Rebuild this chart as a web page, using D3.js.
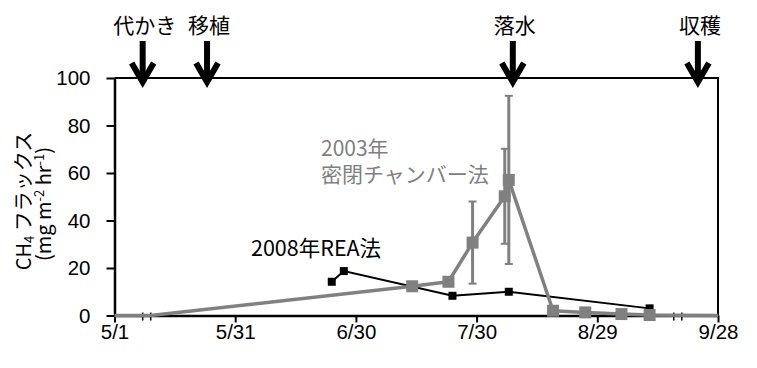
<!DOCTYPE html>
<html>
<head>
<meta charset="utf-8">
<script src="https://cdn.jsdelivr.net/npm/d3@7"></script>
<style>
  html, body { margin: 0; padding: 0; background: #fff; }
  svg { display: block; }
  text { font-family: "Liberation Sans", Arial, sans-serif; }
  .jp { font-family: "Noto Sans CJK JP", "Noto Sans", sans-serif; }
</style>
</head>
<body>
<svg id="chart" width="757" height="368"></svg>
<script>
// x-axis tick dates (month/day) and y-axis ticks
const xTickLabels = ["5/1", "5/31", "6/30", "7/30", "8/29", "9/28"];
const yTicks = [0, 20, 40, 60, 80, 100];

// 2003: closed chamber method (mean and error)
const chamberDates = ["5/1", "5/10", "7/14", "7/23", "7/29", "8/6", "8/7", "8/18", "8/26", "9/4", "9/11", "9/28"];
const chamberFlux  = [0, 0, 12.3, 14.2, 30.7, 50.2, 57.1, 2.0, 1.3, 0.6, 0.2, 0];
const chamberErr   = [0, 0, 0, 0, 17.3, 20.0, 35.4, 0, 0, 0, 0, 0];
const chamberMarker = [false, false, true, true, true, true, true, true, true, true, true, false];

// 2008: REA method
const reaDates = ["6/24", "6/27", "7/24", "8/7", "9/11"];
const reaFlux  = [14.2, 18.7, 8.3, 10.0, 3.0];

// Field operations
const eventLabels = ["代かき", "移植", "落水", "収穫"];
const eventDates  = ["5/8", "5/24", "8/8", "9/23"];

// Small tick pairs on the time axis
const axisMarkDates = ["5/8", "5/10", "9/17", "9/19"];

const parseMD = s => { const [m, d] = s.split("/").map(Number); return new Date(2008, m - 1, d); };

const svg = d3.select("#chart");
const plotL = 114.5, plotR = 718, plotT = 78, plotB = 315.5;

const x = d3.scaleTime()
  .domain([parseMD("5/1"), parseMD("9/28")])
  .range([plotL, plotR]);
const y = d3.scaleLinear().domain([0, 100]).range([plotB, plotT]);

// plot area border (top and right)
svg.append("path")
  .attr("d", `M${plotL},${plotT}H${plotR}V${plotB}`)
  .attr("fill", "none").attr("stroke", "#000").attr("stroke-width", 2);

// y axis
const yAxis = svg.append("g")
  .attr("transform", `translate(${plotL},0)`)
  .call(d3.axisLeft(y).tickValues(yTicks).tickSize(8).tickSizeOuter(0).tickPadding(16));
yAxis.select(".domain").attr("stroke-width", 2.5);
yAxis.selectAll(".tick line").attr("stroke-width", 2);
yAxis.selectAll("text").attr("font-size", 20.5).attr("fill", "#000");

// x axis
const xTickDates = xTickLabels.map(parseMD);
const xAxis = svg.append("g")
  .attr("transform", `translate(0,${plotB})`)
  .call(d3.axisBottom(x).tickValues(xTickDates)
    .tickFormat((d, i) => xTickLabels[i]).tickSize(7).tickSizeOuter(0));
xAxis.select(".domain").attr("stroke-width", 2.5);
xAxis.selectAll(".tick line").attr("stroke-width", 2);
xAxis.selectAll("text").attr("font-size", 20.5).attr("fill", "#000")
  .attr("y", 23).attr("dy", 0);

// small tick pairs across the axis
svg.append("g").selectAll("line")
  .data(axisMarkDates.map(parseMD))
  .join("line")
  .attr("x1", d => x(d)).attr("x2", d => x(d))
  .attr("y1", plotB - 3).attr("y2", plotB + 5)
  .attr("stroke", "#000").attr("stroke-width", 1.5);

// REA series (black)
const rea = reaDates.map((d, i) => ({ date: parseMD(d), v: reaFlux[i] }));
const line = d3.line().x(d => x(d.date)).y(d => y(d.v));
svg.append("path").datum(rea)
  .attr("d", line).attr("fill", "none").attr("stroke", "#000").attr("stroke-width", 2);
svg.append("g").selectAll("rect").data(rea).join("rect")
  .attr("x", d => x(d.date) - 4).attr("y", d => y(d.v) - 4)
  .attr("width", 8).attr("height", 8).attr("fill", "#000");

// chamber series (gray)
const gray = "#808080";
const ch = chamberDates.map((d, i) => ({
  date: parseMD(d), v: chamberFlux[i], e: chamberErr[i], m: chamberMarker[i]
}));
const errG = svg.append("g").attr("stroke", gray);
const withErr = ch.filter(d => d.e > 0);
errG.selectAll("line.bar").data(withErr).join("line").attr("class", "bar")
  .attr("x1", d => x(d.date)).attr("x2", d => x(d.date))
  .attr("y1", d => y(d.v + d.e)).attr("y2", d => y(d.v - d.e))
  .attr("stroke-width", 3);
errG.selectAll("line.capTop").data(withErr).join("line").attr("class", "capTop")
  .attr("x1", d => x(d.date) - 4).attr("x2", d => x(d.date) + 4)
  .attr("y1", d => y(d.v + d.e)).attr("y2", d => y(d.v + d.e))
  .attr("stroke-width", 2);
errG.selectAll("line.capBot").data(withErr).join("line").attr("class", "capBot")
  .attr("x1", d => x(d.date) - 4).attr("x2", d => x(d.date) + 4)
  .attr("y1", d => y(d.v - d.e)).attr("y2", d => y(d.v - d.e))
  .attr("stroke-width", 2);

svg.append("path").datum(ch)
  .attr("d", line).attr("fill", "none").attr("stroke", gray).attr("stroke-width", 3.5)
  .attr("stroke-linejoin", "round");
svg.append("g").selectAll("rect").data(ch.filter(d => d.m)).join("rect")
  .attr("x", d => x(d.date) - 6).attr("y", d => y(d.v) - 6)
  .attr("width", 12).attr("height", 12).attr("fill", gray);

// series labels
const chLabel = svg.append("text").attr("class", "jp")
  .attr("font-size", 21).attr("fill", gray);
chLabel.append("tspan").attr("x", 321).attr("y", 156).text("2003年");
chLabel.append("tspan").attr("x", 321).attr("y", 182).text("密閉チャンバー法");
svg.append("text").attr("class", "jp").attr("x", 251).attr("y", 256)
  .attr("font-size", 21.5).attr("fill", "#000").text("2008年REA法");

// event arrows and labels
const ev = eventLabels.map((l, i) => ({ label: l, date: parseMD(eventDates[i]) }));
const evG = svg.append("g").selectAll("g").data(ev).join("g")
  .attr("transform", d => `translate(${x(d.date)},0)`);
evG.append("line").attr("x1", 0).attr("x2", 0).attr("y1", 41).attr("y2", 80)
  .attr("stroke", "#000").attr("stroke-width", 6);
evG.append("polyline").attr("points", "-11,63 0,82 11,63")
  .attr("fill", "none").attr("stroke", "#000").attr("stroke-width", 6)
  .attr("stroke-linejoin", "miter").attr("stroke-miterlimit", 10);
evG.append("text").attr("class", "jp").attr("x", 2).attr("y", 33)
  .attr("text-anchor", "middle").attr("font-size", 21).attr("fill", "#000")
  .text(d => d.label);

// y-axis title
const yt = svg.append("text").attr("class", "jp")
  .attr("transform", "translate(31,201) rotate(-90)")
  .attr("text-anchor", "middle").attr("font-size", 20).attr("fill", "#000");
yt.append("tspan").text("CH");
yt.append("tspan").attr("font-size", 13).attr("baseline-shift", "-3").text("4");
yt.append("tspan").text(" フラックス");
const yt2 = svg.append("text").attr("class", "jp")
  .attr("transform", "translate(51,204) rotate(-90)")
  .attr("text-anchor", "middle").attr("font-size", 20).attr("fill", "#000");
yt2.append("tspan").text("(mg m");
yt2.append("tspan").attr("font-size", 13).attr("baseline-shift", "7").text("-2");
yt2.append("tspan").text(" hr");
yt2.append("tspan").attr("font-size", 13).attr("baseline-shift", "7").text("-1");
yt2.append("tspan").text(")");
</script>
</body>
</html>
